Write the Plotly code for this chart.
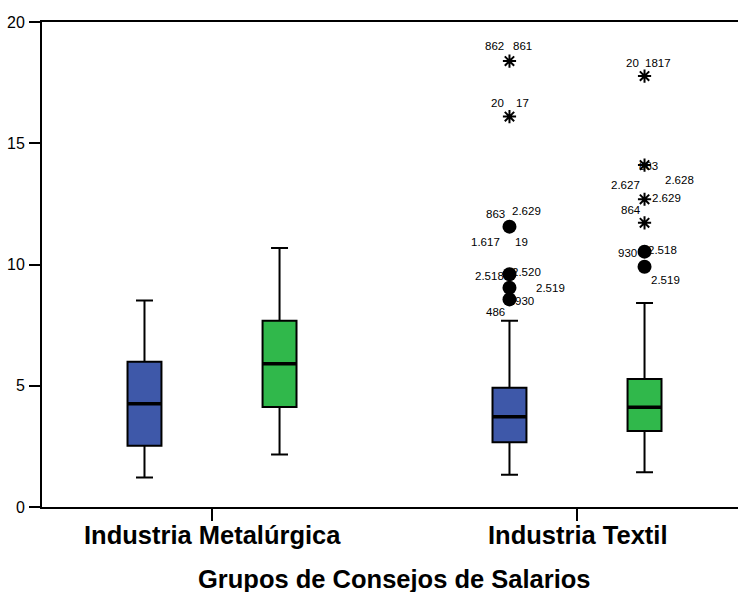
import plotly.graph_objects as go

# ---------------------------------------------------------------- data
groups = ["Industria Metalúrgica", "Industria Textil"]
series_names = ["Serie 1", "Serie 2"]

# five-number summaries, one value per group
s1_low = [1.22, 1.33]
s1_q1 = [2.53, 2.67]
s1_med = [4.26, 3.72]
s1_q3 = [5.99, 4.92]
s1_high = [8.52, 7.68]

s2_low = [2.17, 1.43]
s2_q1 = [4.12, 3.13]
s2_med = [5.91, 4.11]
s2_q3 = [7.68, 5.28]
s2_high = [10.68, 8.41]

# outliers (circles) and extremes (stars): group index, value, case labels
s1_out_group = [1, 1, 1, 1]
s1_out_val = [11.56, 9.60, 9.04, 8.56]
s1_out_lab = [["863", "2.629", "1.617", "19"], ["2.518", "2.520"], ["2.519"], ["930", "486"]]
s1_ext_group = [1, 1]
s1_ext_val = [18.39, 16.10]
s1_ext_lab = [["862", "861"], ["20", "17"]]

s2_out_group = [1, 1]
s2_out_val = [10.53, 9.91]
s2_out_lab = [["930", "2.518"], ["2.519"]]
s2_ext_group = [1, 1, 1, 1]
s2_ext_val = [17.77, 14.10, 12.69, 11.72]
s2_ext_lab = [["20", "1817"], ["863"], ["2.627", "2.628", "2.629"], ["864"]]

# ---------------------------------------------------------------- style
FONT = "Arial, Liberation Sans, sans-serif"
COLORS = ["#3E58A9", "#30B84B"]
OFFSET = 0.185      # horizontal offset of each series inside a group
BOX_W = 0.093       # box width in axis units

# pixel shifts (dx, dy downwards) for every case label, same nesting as the labels
s1_out_shift = [[(-14, -13), (17, -16), (-24, 15), (12, 15)],
                [(-20, 2), (17, -2)], [(41, 0)], [(15, 2), (-14, 13)]]
s1_ext_shift = [[(-15, -15), (13, -15)], [(-12, -14), (13, -14)]]
s2_out_shift = [[(-17, 1), (18, -2)], [(21, 13)]]
s2_ext_shift = [[(-12, -13), (13, -13)], [(4, 1)],
                [(-19, -14), (35, -19), (22, -1)], [(-14, -13)]]

series = [
    dict(low=s1_low, q1=s1_q1, med=s1_med, q3=s1_q3, high=s1_high,
         og=s1_out_group, ov=s1_out_val, ol=s1_out_lab, osh=s1_out_shift,
         eg=s1_ext_group, ev=s1_ext_val, el=s1_ext_lab, esh=s1_ext_shift),
    dict(low=s2_low, q1=s2_q1, med=s2_med, q3=s2_q3, high=s2_high,
         og=s2_out_group, ov=s2_out_val, ol=s2_out_lab, osh=s2_out_shift,
         eg=s2_ext_group, ev=s2_ext_val, el=s2_ext_lab, esh=s2_ext_shift),
]

fig = go.Figure()
annotations = []
shapes = []

for k, s in enumerate(series):
    off = -OFFSET if k == 0 else OFFSET
    pos = [i + off for i in range(len(groups))]
    fig.add_trace(go.Box(
        name=series_names[k], x=pos,
        q1=s["q1"], median=s["med"], q3=s["q3"],
        lowerfence=s["low"], upperfence=s["high"],
        width=BOX_W, whiskerwidth=0.5, boxpoints=False,
        fillcolor=COLORS[k], line=dict(color="black", width=2),
        showlegend=False, hoverinfo="skip",
    ))
    # thicker median bar
    for p, m in zip(pos, s["med"]):
        shapes.append(dict(type="line", xref="x", yref="y",
                           x0=p - BOX_W / 2, x1=p + BOX_W / 2, y0=m, y1=m,
                           line=dict(color="black", width=3.5)))

    ox = [g + off for g in s["og"]]
    fig.add_trace(go.Scatter(
        x=ox, y=s["ov"], mode="markers",
        marker=dict(symbol="circle", size=14, color="black"),
        showlegend=False, hoverinfo="skip"))
    ex = [g + off for g in s["eg"]]
    fig.add_trace(go.Scatter(
        x=ex, y=s["ev"], mode="markers",
        marker=dict(symbol="asterisk-open", size=11, color="black",
                    line=dict(color="black", width=2)),
        showlegend=False, hoverinfo="skip"))

    for xs, vals, labs, shs in ((ox, s["ov"], s["ol"], s["osh"]),
                                (ex, s["ev"], s["el"], s["esh"])):
        for x, v, lab_list, sh_list in zip(xs, vals, labs, shs):
            for lab, (dx, dy) in zip(lab_list, sh_list):
                annotations.append(dict(
                    x=x, y=v, xref="x", yref="y", text=lab, showarrow=False,
                    xshift=dx, yshift=-dy, xanchor="center", yanchor="middle",
                    font=dict(family=FONT, size=11.5, color="black")))

# category labels under the axis
for i, g in enumerate(groups):
    annotations.append(dict(
        text=g, x=i, xref="x", y=0, yref="paper", yshift=-28,
        xanchor="center", yanchor="middle", showarrow=False,
        font=dict(family=FONT, size=25.5, color="black", weight="bold")))

annotations.append(dict(
    text="Grupos de Consejos de Salarios", xref="paper", yref="paper",
    x=0.507, y=0, yshift=-72, xanchor="center", yanchor="middle",
    showarrow=False, font=dict(family=FONT, size=25.5, color="black", weight="bold")))

fig.update_layout(
    width=738, height=592,
    margin=dict(l=42, r=0, t=22, b=85),
    paper_bgcolor="white", plot_bgcolor="white",
    boxmode="overlay",
    annotations=annotations, shapes=shapes,
    font=dict(family=FONT, color="black"),
    xaxis=dict(
        range=[-0.4658, 1.4411], tickvals=list(range(len(groups))),
        ticktext=["" for _ in groups],
        ticks="outside", ticklen=12, tickwidth=2, tickcolor="black",
        showline=True, mirror=True, linewidth=2, linecolor="black",
        showgrid=False, zeroline=False,
    ),
    yaxis=dict(
        range=[0, 20], tickvals=[0, 5, 10, 15, 20],
        ticks="outside", ticklen=11, tickwidth=2, tickcolor="black",
        showline=True, linewidth=2, linecolor="black",
        showgrid=False, zeroline=False, ticklabelstandoff=1,
        tickfont=dict(family=FONT, size=16, color="black"),
    ),
)

fig.write_html("out.html")
